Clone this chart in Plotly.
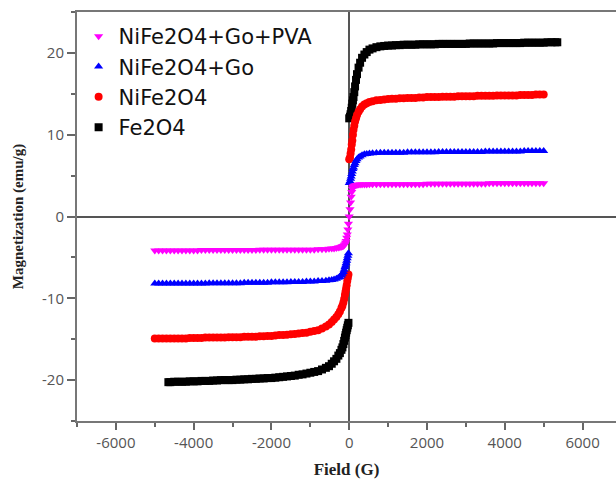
import plotly.graph_objects as go

# Field values (G) for the NiFe2O4 based samples
FIELD = [-5000, -4900, -4800, -4700, -4600, -4500, -4400, -4300, -4200, -4100,
         -4000, -3900, -3800, -3700, -3600, -3500, -3400, -3300, -3200, -3100,
         -3000, -2900, -2800, -2700, -2600, -2500, -2400, -2300, -2200, -2100,
         -2000, -1900, -1800, -1700, -1600, -1500, -1400, -1300, -1200, -1100, -1000,
         -900, -800, -700, -600, -520, -450, -390, -330, -280, -240, -200, -175, -150,
         -130, -110, -95, -80, -65, -50, -35, -20,
         0,
         20, 35, 50, 65, 80, 95, 110, 130, 150, 175, 200, 240, 280, 330, 390, 450, 520,
         600, 700, 800, 900,
         1000, 1100, 1200, 1300, 1400, 1500, 1600, 1700, 1800, 1900,
         2000, 2100, 2200, 2300, 2400, 2500, 2600, 2700, 2800, 2900,
         3000, 3100, 3200, 3300, 3400, 3500, 3600, 3700, 3800, 3900,
         4000, 4100, 4200, 4300, 4400, 4500, 4600, 4700, 4800, 4900, 5000]

# Field values (G) for Fe2O4
FIELD_FE = [-4650, -4600, -4500, -4400, -4300, -4200, -4100,
            -4000, -3900, -3800, -3700, -3600, -3500, -3400, -3300, -3200, -3100,
            -3000, -2900, -2800, -2700, -2600, -2500, -2400, -2300, -2200, -2100,
            -2000, -1900, -1800, -1700, -1600, -1500, -1400, -1300, -1200, -1100, -1000,
            -900, -800, -700, -600, -520, -450, -390, -330, -280, -240, -200, -175, -150,
            -130, -110, -95, -80, -65, -50, -35, -20,
            0,
            20, 35, 50, 65, 80, 95, 110, 130, 150, 175, 200, 240, 280, 330, 390, 450, 520,
            600, 700, 800, 900,
            1000, 1100, 1200, 1300, 1400, 1500, 1600, 1700, 1800, 1900,
            2000, 2100, 2200, 2300, 2400, 2500, 2600, 2700, 2800, 2900,
            3000, 3100, 3200, 3300, 3400, 3500, 3600, 3700, 3800, 3900,
            4000, 4100, 4200, 4300, 4400, 4500, 4600, 4700, 4800, 4900,
            5000, 5100, 5200, 5300, 5350]

# Magnetization (emu/g)
M_FE2O4 = [-20.25, -20.25, -20.2, -20.2, -20.2, -20.2, -20.15,
           -20.15, -20.15, -20.1, -20.1, -20.1, -20.05, -20.05, -20.0, -20.0, -20.0,
           -20.0, -19.95, -19.95, -19.9, -19.9, -19.85, -19.85, -19.8, -19.8, -19.75,
           -19.75, -19.7, -19.65, -19.6, -19.55, -19.5, -19.45, -19.35, -19.3, -19.2, -19.1,
           -19.0, -18.9, -18.7, -18.5, -18.3, -18.0, -17.7, -17.4, -17.0, -16.7, -16.3, -16.0, -15.6,
           -15.2, -14.8, -14.5, -14.2, -13.9, -13.6, -13.3, -13.0,
           12.0,
           12.2, 12.5, 12.9, 13.3, 13.8, 14.2, 14.6, 15.2, 15.9, 16.7, 17.4, 18.2, 18.8, 19.4, 19.8, 20.1, 20.4,
           20.55, 20.7, 20.8, 20.85,
           20.9, 20.9, 20.95, 20.95, 21.0, 21.0, 21.0, 21.0, 21.05, 21.05,
           21.05, 21.05, 21.05, 21.1, 21.1, 21.1, 21.1, 21.1, 21.1, 21.1,
           21.1, 21.15, 21.15, 21.15, 21.15, 21.15, 21.15, 21.15, 21.2, 21.2,
           21.2, 21.2, 21.2, 21.2, 21.2, 21.25, 21.25, 21.25, 21.25, 21.25,
           21.25, 21.3, 21.3, 21.3, 21.3]

M_NIFE2O4 = [-14.9, -14.9, -14.9, -14.9, -14.9, -14.9, -14.9, -14.9, -14.9, -14.85,
             -14.85, -14.85, -14.85, -14.8, -14.8, -14.8, -14.8, -14.8, -14.8, -14.75,
             -14.75, -14.75, -14.75, -14.7, -14.7, -14.7, -14.7, -14.65, -14.65, -14.6,
             -14.6, -14.55, -14.5, -14.5, -14.45, -14.4, -14.35, -14.3, -14.25, -14.2, -14.1,
             -14.0, -13.9, -13.7, -13.45, -13.2, -12.9, -12.6, -12.3, -11.95, -11.6, -11.2, -10.9, -10.5,
             -10.1, -9.6, -9.2, -8.8, -8.4, -7.9, -7.5, -7.1,
             7.0,
             7.2, 7.7, 8.2, 8.8, 9.3, 10.0, 10.6, 11.1, 11.6, 12.0, 12.4, 12.8, 13.1, 13.45, 13.7, 13.85, 14.0,
             14.1, 14.2, 14.25, 14.3,
             14.35, 14.4, 14.4, 14.45, 14.45, 14.5, 14.5, 14.5, 14.55, 14.55,
             14.6, 14.6, 14.6, 14.6, 14.65, 14.65, 14.65, 14.65, 14.7, 14.7,
             14.7, 14.7, 14.7, 14.75, 14.75, 14.75, 14.75, 14.75, 14.8, 14.8,
             14.8, 14.8, 14.8, 14.8, 14.85, 14.85, 14.85, 14.85, 14.9, 14.9, 14.9]

M_NIFE2O4_GO = [-8.2, -8.2, -8.2, -8.2, -8.2, -8.2, -8.2, -8.2, -8.2, -8.2,
                -8.2, -8.2, -8.2, -8.2, -8.15, -8.15, -8.15, -8.15, -8.15, -8.15,
                -8.15, -8.15, -8.15, -8.1, -8.1, -8.1, -8.1, -8.1, -8.1, -8.1,
                -8.05, -8.05, -8.05, -8.05, -8.05, -8.0, -8.0, -8.0, -8.0, -7.95, -7.95,
                -7.95, -7.9, -7.9, -7.85, -7.8, -7.75, -7.7, -7.6, -7.5, -7.4, -7.2, -7.0, -6.8,
                -6.5, -6.2, -6.0, -5.7, -5.4, -5.1, -4.8, -4.5,
                4.1,
                4.3, 4.6, 4.9, 5.2, 5.5, 5.8, 6.0, 6.3, 6.5, 6.8, 7.0, 7.2, 7.35, 7.5, 7.6, 7.65, 7.7,
                7.72, 7.75, 7.78, 7.8,
                7.8, 7.8, 7.8, 7.8, 7.8, 7.85, 7.85, 7.85, 7.85, 7.85,
                7.85, 7.85, 7.85, 7.9, 7.9, 7.9, 7.9, 7.9, 7.9, 7.9,
                7.9, 7.9, 7.9, 7.9, 7.9, 7.95, 7.95, 7.95, 7.95, 7.95,
                7.95, 7.95, 7.95, 7.95, 7.95, 8.0, 8.0, 8.0, 8.0, 8.0, 8.0]

M_NIFE2O4_GO_PVA = [-4.15, -4.15, -4.15, -4.15, -4.15, -4.15, -4.15, -4.15, -4.15, -4.15,
                    -4.15, -4.15, -4.1, -4.1, -4.1, -4.1, -4.1, -4.1, -4.1, -4.1,
                    -4.1, -4.1, -4.1, -4.1, -4.1, -4.1, -4.1, -4.05, -4.05, -4.05,
                    -4.05, -4.05, -4.05, -4.05, -4.05, -4.05, -4.05, -4.05, -4.05, -4.05, -4.05,
                    -4.05, -4.0, -4.0, -4.0, -3.95, -3.9, -3.9, -3.85, -3.8, -3.75, -3.7, -3.65, -3.6,
                    -3.5, -3.4, -3.2, -3.0, -2.6, -2.2, -1.6, -0.9,
                    0.0,
                    0.9, 1.7, 2.4, 3.0, 3.4, 3.6, 3.7, 3.75, 3.8, 3.85, 3.85, 3.9, 3.9, 3.9, 3.9, 3.9, 3.95,
                    3.95, 3.95, 3.95, 3.95,
                    3.95, 3.95, 3.95, 3.95, 3.95, 3.95, 3.95, 3.95, 3.95, 3.95,
                    4.0, 4.0, 4.0, 4.0, 4.0, 4.0, 4.0, 4.0, 4.0, 4.0,
                    4.0, 4.0, 4.0, 4.0, 4.0, 4.0, 4.05, 4.05, 4.05, 4.05,
                    4.05, 4.05, 4.05, 4.05, 4.05, 4.05, 4.05, 4.05, 4.05, 4.05, 4.05]

X_TICKS = [-6000, -4000, -2000, 0, 2000, 4000, 6000]
X_TICK_TEXT = ["-6000", "-4000", "-2000", "0", "2000", "4000", "6000"]
X_MINOR = [-7000, -5000, -3000, -1000, 1000, 3000, 5000]
Y_TICKS = [-20, -10, 0, 10, 20]
Y_TICK_TEXT = ["-20", "-10", "0", "10", "20"]
Y_MINOR = [-25, -15, -5, 5, 15, 25]

fig = go.Figure()

series = [
    ("Fe2O4", FIELD_FE, M_FE2O4, "#000000", "square"),
    ("NiFe2O4", FIELD, M_NIFE2O4, "#ff0000", "circle"),
    ("NiFe2O4+Go", FIELD, M_NIFE2O4_GO, "#0000ff", "triangle-up"),
    ("NiFe2O4+Go+PVA", FIELD, M_NIFE2O4_GO_PVA, "#ff00ff", "triangle-down"),
]
for name, x, y, color, sym in series:
    fig.add_trace(go.Scatter(
        x=x, y=y, name=name, mode="markers",
        marker=dict(color=color, symbol=sym, size=8, line=dict(width=0)),
    ))

tick_font = dict(family="Open Sans", size=15, color="#555555")

fig.update_layout(
    width=616, height=479,
    margin=dict(l=77, r=0, t=12, b=58),
    paper_bgcolor="white", plot_bgcolor="white",
    showlegend=True,
    legend=dict(
        x=0.003, y=0.99, xanchor="left", yanchor="top",
        traceorder="reversed",
        font=dict(family="DejaVu Sans", size=21, color="#111111"),
        bgcolor="rgba(0,0,0,0)", borderwidth=0,
    ),
    xaxis=dict(
        range=[-7000, 6860], automargin=False,
        tickmode="array", tickvals=X_TICKS, ticktext=X_TICK_TEXT,
        ticks="outside", ticklen=7, tickwidth=2, tickcolor="#666666",
        minor=dict(tickmode="array", tickvals=X_MINOR, ticks="outside", ticklen=4, tickwidth=2, tickcolor="#666666"),
        showline=True, linecolor="#777777", linewidth=2, mirror=True,
        showgrid=False,
        zeroline=True, zerolinecolor="#555555", zerolinewidth=2,
        tickfont=tick_font,
        title=dict(text="Field (G)", font=dict(family="Liberation Serif", size=17, color="#222222", weight="bold"), standoff=14),
    ),
    yaxis=dict(
        range=[-25, 25], automargin=False,
        tickmode="array", tickvals=Y_TICKS, ticktext=Y_TICK_TEXT,
        ticks="outside", ticklen=8, tickwidth=2, tickcolor="#666666",
        minor=dict(tickmode="array", tickvals=Y_MINOR, ticks="outside", ticklen=4, tickwidth=2, tickcolor="#666666"),
        showline=True, linecolor="#777777", linewidth=2, mirror=False,
        showgrid=False,
        zeroline=True, zerolinecolor="#555555", zerolinewidth=2,
        tickfont=tick_font,
        title=dict(text="Magnetization (emu/g)", font=dict(family="Liberation Serif", size=15, color="#222222", weight="bold"), standoff=15),
    ),
)

fig.write_html("out.html", config={"displayModeBar": False},
               post_script="document.body.style.margin='0';")
